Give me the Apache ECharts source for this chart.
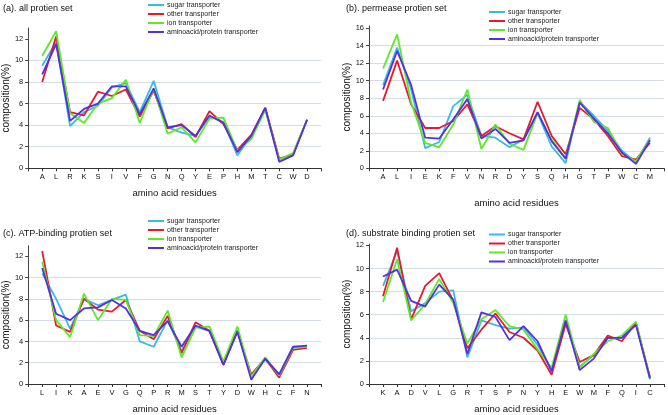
<!DOCTYPE html>
<html><head><meta charset="utf-8">
<script src="https://cdn.jsdelivr.net/npm/echarts@6/dist/echarts.min.js"></script>
<style>html,body{margin:0;padding:0;background:#fff}#c{width:668px;height:415px}</style>
</head><body><div id="c"></div>
<script>
const seriesNames = ['sugar transporter','other transporter','ion transporter','aminoacid/protein transporter'];
const colors = ['#3cb8e8','#e8192c','#5ee82a','#5530e0'];

const catsA = ['A','L','R','K','S','I','V','F','G','N','Q','Y','E','P','H','M','T','C','W','D'];
const sugarA = [9.5,11.7,3.9,5.2,5.8,7.5,7.9,5.2,8.1,3.8,3.3,3.0,4.8,4.3,1.2,3.0,5.6,0.8,1.3,4.5];
const otherA = [8.0,12.2,5.2,4.9,7.1,6.7,7.3,4.8,7.2,3.7,4.1,2.9,5.3,4.1,1.7,3.1,5.6,0.9,1.3,4.5];
const ionA   = [10.4,12.7,5.1,4.2,6.0,6.5,8.2,4.2,7.4,3.2,3.8,2.4,4.6,4.7,1.6,2.7,5.4,0.8,1.4,4.5];
const aminoA = [8.7,11.5,4.4,5.5,6.0,7.6,7.6,5.0,7.4,3.8,4.0,3.0,4.9,4.2,1.5,3.0,5.6,0.6,1.2,4.5];

const catsB = ['A','L','I','E','K','F','V','N','R','D','Y','S','Q','H','G','T','P','W','C','M'];
const sugarB = [9.5,13.8,9.0,2.3,3.0,7.1,8.4,3.7,3.5,2.4,3.3,6.3,2.5,0.6,7.6,6.0,4.3,2.0,0.7,3.5];
const otherB = [7.7,12.3,7.3,4.6,4.6,5.4,7.3,3.7,4.8,4.0,3.3,7.6,3.7,1.6,6.9,5.6,3.7,1.4,1.0,2.9];
const ionB   = [11.4,15.3,7.5,2.9,2.4,5.0,9.0,2.2,5.0,2.8,2.1,6.3,3.3,1.1,7.8,5.3,4.6,1.7,0.8,3.3];
const aminoB = [9.0,13.4,9.5,3.5,3.4,5.6,7.9,3.4,4.5,2.9,3.2,6.4,3.1,1.1,7.5,5.7,4.0,1.8,0.5,3.2];

const catsC = ['L','I','K','A','E','V','G','Q','P','R','M','S','T','Y','D','W','H','C','F','N'];
const sugarC = [10.4,8.0,5.2,8.0,7.4,7.9,8.4,4.0,3.5,6.0,3.1,5.4,5.0,1.9,5.0,0.7,2.3,0.9,3.5,3.4];
const otherC = [12.5,5.5,4.9,8.0,7.0,6.8,7.9,5.0,4.2,6.4,2.9,5.8,5.0,1.8,5.0,0.9,2.4,0.6,3.2,3.4];
const ionC   = [11.5,6.0,4.4,8.5,6.0,8.0,7.9,4.6,4.5,6.9,2.5,5.3,5.4,2.1,5.4,0.7,2.5,0.8,3.4,3.5];
const aminoC = [10.9,6.6,6.0,7.1,7.2,7.9,7.1,5.0,4.6,5.9,3.5,5.5,5.0,1.8,4.9,0.4,2.4,0.9,3.5,3.6];

const catsD = ['K','A','D','V','L','G','R','T','S','P','N','Y','H','E','W','M','F','Q','I','C'];
const sugarD = [8.5,11.5,6.3,7.0,8.0,8.1,2.3,5.5,5.1,4.8,4.9,3.4,1.2,5.4,1.5,2.5,4.0,4.0,5.3,0.4];
const otherD = [7.6,11.8,5.6,8.5,9.6,7.2,3.1,4.7,6.1,4.5,4.0,2.9,0.8,5.2,1.9,2.5,4.2,3.7,5.3,0.6];
const ionD   = [7.1,10.8,5.5,6.9,9.1,7.0,3.5,5.6,6.4,5.0,4.7,3.0,1.4,6.0,1.4,2.6,3.7,4.2,5.4,0.5];
const aminoD = [9.3,9.9,7.2,6.7,8.6,7.3,2.6,6.2,5.8,3.8,5.0,3.7,1.1,5.5,1.2,2.2,4.0,4.0,5.1,0.5];

const titles = ['(a). all protien set','(b). permease protien set','(c). ATP-binding protien set','(d). substrate binding protien set'];
const yTicksA = [0,2,4,6,8,10,12];
const yTicksB = [0,2,4,6,8,10,12,14,16];
const yTicksC = [0,2,4,6,8,10,12];
const yTicksD = [0,2,4,6,8,10,12];

const FONT = '"Liberation Sans", Arial, sans-serif';
const panels = [
  {cats:catsA, data:[sugarA,otherA,ionA,aminoA], ticks:yTicksA, max:13,   grid:{left:26,top:28,width:295,height:140.3}, title:[3,4.5], legend:[148,0.5], yGap:13, xGap:20},
  {cats:catsB, data:[sugarB,otherB,ionB,aminoB], ticks:yTicksB, max:16.25,grid:{left:369,top:26,width:295,height:142.3}, title:[346,4.5], legend:[489,7.5], yGap:17, xGap:30},
  {cats:catsC, data:[sugarC,otherC,ionC,aminoC], ticks:yTicksC, max:13,   grid:{left:26,top:245.7,width:295,height:139.6}, title:[3,229.5], legend:[148,216.5], yGap:13, xGap:20},
  {cats:catsD, data:[sugarD,otherD,ionD,aminoD], ticks:yTicksD, max:12.1, grid:{left:369,top:244.2,width:295,height:141.1}, title:[346,229.5], legend:[489,230], yGap:15.5, xGap:20}
];

const option = {
  animation:false,
  textStyle:{fontFamily:FONT},
  title:[], legend:[], grid:[], xAxis:[], yAxis:[], series:[]
};
panels.forEach((p,i)=>{
  option.title.push({text:titles[i], left:p.title[0], top:p.title[1], padding:0,
    textStyle:{fontSize:9, fontWeight:'normal', color:'#111', fontFamily:FONT}});
  option.legend.push({orient:'vertical', left:p.legend[0], top:p.legend[1], padding:0, itemGap:0,
    itemWidth:16, itemHeight:2, icon:'rect', data:seriesNames,
    textStyle:{fontSize:7, lineHeight:9, color:'#222', padding:[0,0,0,-2], fontFamily:FONT}});
  option.grid.push(Object.assign({containLabel:false}, p.grid));
  option.xAxis.push({type:'category', gridIndex:i, data:[''].concat(p.cats,['']), boundaryGap:false,
    name:'amino acid residues', nameLocation:'middle', nameGap:p.xGap,
    nameTextStyle:{fontSize:9.5, color:'#111', fontFamily:FONT},
    axisLine:{lineStyle:{color:'#333', width:1}},
    axisTick:{show:true, length:3, lineStyle:{color:'#333'}, interval:0},
    axisLabel:{fontSize:7.5, color:'#111', margin:5, interval:0, fontFamily:FONT},
    splitLine:{show:false}});
  option.yAxis.push({type:'value', gridIndex:i, min:0, max:p.max, interval:2,
    name:'composition(%)', nameLocation:'middle', nameGap:p.yGap,
    nameTextStyle:{fontSize:10, color:'#111', fontFamily:FONT},
    axisLine:{show:true, lineStyle:{color:'#444', width:1}},
    axisTick:{show:true, length:3, lineStyle:{color:'#444'}, customValues:p.ticks},
    axisLabel:{fontSize:7.5, color:'#111', margin:5, customValues:p.ticks, fontFamily:FONT},
    splitLine:{show:true, showMaxLine:false, showMinLine:false, lineStyle:{color:'#d5dde6', width:1}}});
  seriesNames.forEach((n,k)=>{
    option.series.push({type:'line', name:n, xAxisIndex:i, yAxisIndex:i,
      data:[null].concat(p.data[k],[null]), showSymbol:false, symbol:'none',
      lineStyle:{width:1.8, color:colors[k]}, itemStyle:{color:colors[k]}, z:2+k});
  });
});
const chart = echarts.init(document.getElementById('c'), null, {renderer:'canvas'});
chart.setOption(option);
</script></body></html>
